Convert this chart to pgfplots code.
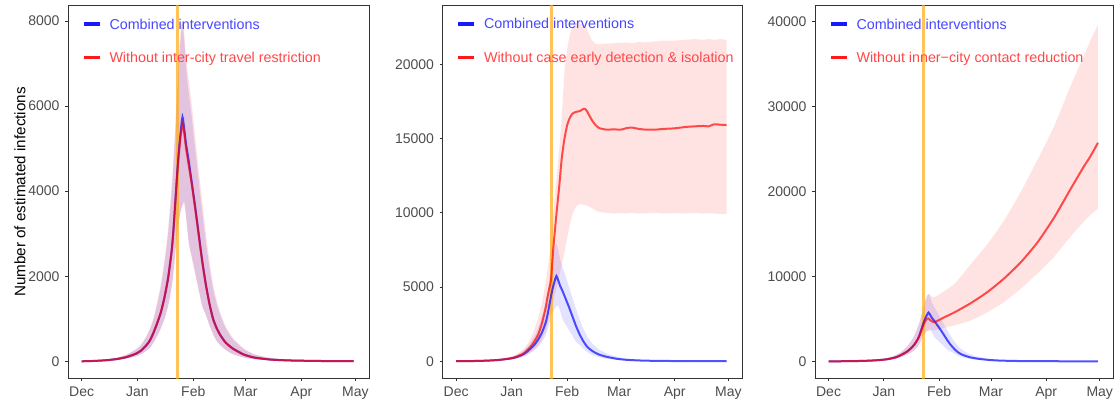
\documentclass[border=0pt]{standalone}
\usepackage{fontspec}
\setmainfont{Liberation Sans}
\usepackage{pgfplots}
\pgfplotsset{compat=1.18}
\usepackage{pgfplotstable}
\usepgfplotslibrary{fillbetween}

\definecolor{framec}{RGB}{51,51,51}
\definecolor{tickc}{RGB}{77,77,77}
\definecolor{vline}{RGB}{255,170,20}

% day 0 = 1 Dec; combined interventions (same in all panels)
\pgfplotstableread{
t m lo hi
0 0 0 0
5 5 2 9
10 15 8 25
15 30 17 50
20 55 35 88
25 100 65 155
30 175 115 270
33 250 165 385
36 380 250 580
38 494 320 760
40 680 450 1000
42 900 600 1350
44 1150 780 1750
46 1500 1000 2300
48 1950 1300 3000
50 2600 1750 4000
51 3100 2100 4650
52 3750 2550 5400
53 4400 3000 6200
54 4950 3300 7000
55 5400 3550 7600
56 5740 3700 7950
57 5450 3750 7500
58 5100 3400 6900
59.5 4700 2800 6300
61 4250 2500 5800
63 3650 2100 5000
65 3000 1700 4250
67 2350 1300 3500
69 1800 1100 2800
71 1350 850 2200
73 1000 640 1700
75 780 480 1350
77 620 380 1080
80 440 270 780
84 300 170 520
90 160 90 290
96 87 48 160
105 40 22 75
115 20 10 38
130 8 4 16
140 5 2 10
151 3 1 6
}\comb

% without inter-city travel restriction
\pgfplotstableread{
t m lo hi
0 0 0 0
5 5 2 9
10 15 8 26
15 30 17 52
20 56 35 90
25 102 65 160
30 178 115 280
33 255 165 400
36 385 250 600
38 500 320 790
40 690 450 1040
42 910 600 1400
44 1160 780 1820
46 1510 1000 2400
48 1960 1300 3100
50 2600 1750 4150
51 3100 2100 4800
52 3720 2550 5550
53 4350 3000 6400
54 4880 3300 7200
55 5300 3500 7800
56 5580 3650 8000
57 5350 3700 7700
58 5000 3350 7150
59.5 4600 2750 6600
61 4200 2450 6100
63 3600 2050 5300
65 2960 1650 4500
67 2330 1280 3750
69 1790 1080 3000
71 1340 840 2350
73 990 630 1800
75 770 470 1430
77 610 370 1150
80 435 265 820
84 295 165 550
90 158 88 300
96 86 47 165
105 40 22 78
115 20 10 40
130 8 4 17
140 5 2 10
151 3 1 6
}\redA

% without case early detection & isolation
\pgfplotstableread{
t m lo hi
0 0 0 0
5 5 2 9
10 15 8 25
15 30 17 50
20 56 35 90
25 103 65 160
30 185 115 290
33 270 170 430
36 420 260 660
38 560 340 880
40 780 470 1200
42 1050 630 1650
44 1400 830 2250
46 1850 1100 3000
48 2600 1500 4000
50 3600 2050 5300
51 4300 2450 6100
52 4900 2900 7000
53 5500 3400 8100
54 7200 3900 9500
55 8600 4400 11000
56 9900 4900 12300
57.5 11700 5700 14200
59 13700 6500 16500
60.5 15000 7300 19500
62 15900 8300 21000
63.5 16400 9200 22000
65 16680 9900 22500
67 16800 10400 22770
69 16850 10600 22750
71 16990 10550 22700
72 17000 10500 22650
73 16850 10480 22400
74.3 16570 10420 22000
76 16200 10300 21600
78 15890 10150 21400
80 15700 10050 21350
84 15600 10000 21400
88 15620 9950 21420
92 15600 9980 21450
95 15700 9950 21460
98 15740 10000 21420
102 15650 9950 21500
106 15600 9970 21480
111 15600 10000 21550
116 15650 9950 21600
122 15690 9980 21600
128 15780 9950 21650
133 15820 10000 21700
138 15850 9950 21650
141 15820 9980 21700
144 15960 9950 21650
148 15930 9920 21700
151 15910 9900 21600
}\redB

% without inner-city contact reduction
\pgfplotstableread{
t m lo hi
0 0 0 0
5 5 2 9
10 15 8 25
15 30 17 50
20 55 35 88
25 100 65 155
30 175 115 270
33 250 165 385
36 380 250 580
38 494 320 760
40 680 450 1000
42 900 600 1350
44 1150 780 1750
46 1500 1000 2300
48 1950 1300 3000
50 2600 1750 4000
51 3050 2100 4650
52 3600 2550 5400
53 4200 3000 6200
54 4650 3300 7000
55 5000 3500 7600
56 5050 3600 7950
57 4850 3650 7800
58 4700 3650 7600
59.7 4640 3660 7590
65 5200 3950 8300
70.8 5790 4250 9160
80 6890 4830 11520
89.3 8200 5810 13880
98.5 9780 7000 16630
107.8 11680 8570 19970
117 13980 10340 23700
126.3 16880 12300 27630
135.5 20240 14660 32350
142.9 22880 16430 35890
146.6 24090 17200 37700
151 25740 18000 39620
}\redC

\pgfplotsset{
  panel/.style={
    scale only axis, anchor=south west, height=372.6pt,
    xmin=-7.6, xmax=159.6,
    xtick={0,31,62,91,122,152}, xticklabels={Dec,Jan,Feb,Mar,Apr,May},
    xtick pos=bottom, ytick pos=left, tick align=outside,
    scaled y ticks=false,
    major tick length=3pt, minor tick num=0,
    every tick/.style={framec, line width=0.8pt},
    axis line style={framec, line width=0.8pt},
    ticklabel style={font=\fontsize{14}{16}\selectfont, text=tickc},
    yticklabel style={anchor=east, inner sep=0pt, xshift=-5.3pt},
    xticklabel style={anchor=north, inner sep=0pt, yshift=-5pt},
    /pgf/number format/fixed, /pgf/number format/1000 sep={},
    /pgf/number format/assume math mode=true,
    legend style={at={(0,1)}, anchor=north west, xshift=14pt, yshift=-13pt,
      draw=none, fill=none, inner sep=0pt, outer sep=0pt,
      row sep=23.4pt, column sep=8pt,
      font=\fontsize{14.3}{16}\selectfont,
      nodes={inner sep=0pt, text height=10.3pt, text depth=0pt}},
    legend cell align=left,
    legend image code/.code={\draw[line width=3.5pt, draw opacity=0.9] (0pt,0pt) -- (16pt,0pt);},
  },
  vl/.style={vline, opacity=0.7, line width=3pt, forget plot},
  cline/.style={opacity=0.68, line width=2pt, smooth, tension=0.35},
  band/.style={draw=none, forget plot, smooth, tension=0.35},
}

\begin{document}
\begin{tikzpicture}

% panel 1
\begin{axis}[panel, at={(68pt,21.7pt)}, width=301pt,
  ymin=-400, ymax=8360, ytick={0,2000,4000,6000,8000},
  ylabel={Number of estimated infections},
  ylabel style={at={(axis description cs:-0.1595,0.5)}, anchor=center,
    font=\fontsize{15.2}{17}\selectfont, text=black}]
\addplot[vl] coordinates {(53,-5000) (53,50000)};
\addplot[band, name path=bh] table[x=t,y=hi]{\comb};
\addplot[band, name path=bl] table[x=t,y=lo]{\comb};
\addplot[fill=blue, fill opacity=0.13, draw=none, forget plot] fill between[of=bh and bl];
\addplot[band, name path=rh] table[x=t,y=hi]{\redA};
\addplot[band, name path=rl] table[x=t,y=lo]{\redA};
\addplot[fill=red, fill opacity=0.12, draw=none, forget plot] fill between[of=rh and rl];
\addplot[blue, cline] table[x=t,y=m]{\comb};
\addlegendentry{\textcolor{blue!72}{Combined interventions}}
\addplot[red, cline] table[x=t,y=m]{\redA};
\addlegendentry{\textcolor{red!72}{Without inter-city travel restriction}}
\end{axis}

% panel 2
\begin{axis}[panel, at={(442.5pt,21.7pt)}, width=299.5pt,
  ymin=-1150, ymax=23950, ytick={0,5000,10000,15000,20000}]
\addplot[vl] coordinates {(53,-5000) (53,50000)};
\addplot[band, name path=bh] table[x=t,y=hi]{\comb};
\addplot[band, name path=bl] table[x=t,y=lo]{\comb};
\addplot[fill=blue, fill opacity=0.11, draw=none, forget plot] fill between[of=bh and bl];
\addplot[band, name path=rh] table[x=t,y=hi]{\redB};
\addplot[band, name path=rl] table[x=t,y=lo]{\redB};
\addplot[fill=red, fill opacity=0.11, draw=none, forget plot] fill between[of=rh and rl];
\addplot[blue, cline] table[x=t,y=m]{\comb};
\addlegendentry{\textcolor{blue!72}{Combined interventions}}
\addplot[red, cline] table[x=t,y=m]{\redB};
\addlegendentry{\textcolor{red!72}{Without case early detection \& isolation}}
\end{axis}

% panel 3
\begin{axis}[panel, at={(815pt,21.7pt)}, width=298.3pt,
  ymin=-2000, ymax=41890, ytick={0,10000,20000,30000,40000}]
\addplot[vl] coordinates {(53,-5000) (53,50000)};
\addplot[band, name path=bh] table[x=t,y=hi]{\comb};
\addplot[band, name path=bl] table[x=t,y=lo]{\comb};
\addplot[fill=blue, fill opacity=0.11, draw=none, forget plot] fill between[of=bh and bl];
\addplot[band, name path=rh] table[x=t,y=hi]{\redC};
\addplot[band, name path=rl] table[x=t,y=lo]{\redC};
\addplot[fill=red, fill opacity=0.11, draw=none, forget plot] fill between[of=rh and rl];
\addplot[blue, cline] table[x=t,y=m]{\comb};
\addlegendentry{\textcolor{blue!72}{Combined interventions}}
\addplot[red, cline] table[x=t,y=m]{\redC};
\addlegendentry{\textcolor{red!72}{Without inner−city contact reduction}}
\end{axis}

\path (0pt,0pt) rectangle (1120pt,400pt);
\end{tikzpicture}
\end{document}
